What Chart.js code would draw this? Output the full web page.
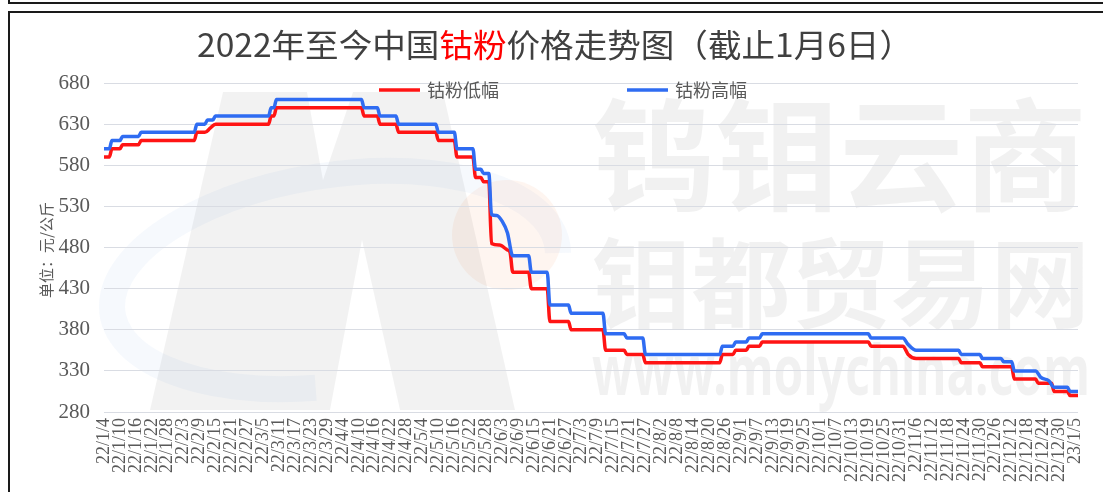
<!DOCTYPE html>
<html><head><meta charset="utf-8">
<script src="https://cdn.jsdelivr.net/npm/chart.js@4.4.1/dist/chart.umd.min.js"></script>
<style>
html,body{margin:0;padding:0;background:#fff;}
#wrap{position:relative;width:1103px;height:492px;overflow:hidden;}
canvas{position:absolute;left:0;top:0;}
.box{position:absolute;border:2px solid #1a1a1a;box-sizing:border-box;pointer-events:none;}
</style></head><body>
<div id="wrap"><canvas id="c" width="1103" height="492"></canvas>
<div class="box" style="left:8px;top:-30px;width:1200px;height:34px;"></div>
<div class="box" style="left:8px;top:11px;width:1200px;height:600px;"></div>
</div>
<script>
// x tick labels (every 6 days from 22/1/4)
const xTickLabels = ['22/1/4','22/1/10','22/1/16','22/1/22','22/1/28','22/2/3','22/2/9','22/2/15','22/2/21','22/2/27',
 '22/3/5','22/3/11','22/3/17','22/3/23','22/3/29','22/4/4','22/4/10','22/4/16','22/4/22','22/4/28',
 '22/5/4','22/5/10','22/5/16','22/5/22','22/5/28','22/6/3','22/6/9','22/6/15','22/6/21','22/6/27',
 '22/7/3','22/7/9','22/7/15','22/7/21','22/7/27','22/8/2','22/8/8','22/8/14','22/8/20','22/8/26',
 '22/9/1','22/9/7','22/9/13','22/9/19','22/9/25','22/10/1','22/10/7','22/10/13','22/10/19','22/10/25',
 '22/10/31','22/11/6','22/11/12','22/11/18','22/11/24','22/11/30','22/12/6','22/12/12','22/12/18','22/12/24',
 '22/12/30','23/1/5'];
const tickStepDays = 6;

// 钴粉高幅 (day offset from 22/1/4, price)
const highDay   = [0,2,3,6,7,13,14,34,35,38,39,41,42,62,63,64,65,97,98,103,104,110,111,125,126,132,133,139,140,142,143,145,146,148,150,152,154,160,161,167,168,175,176,188,189,196,197,203,204,232,233,237,238,242,243,247,248,288,289,301,303,306,322,323,330,331,338,339,342,343,351,353,356,358,363,364,367];
const highPrice = [600,600,610,610,615,615,620,620,630,630,635,635,640,640,650,650,660,660,650,650,640,640,630,630,620,620,600,600,575,575,570,570,520,519,512,498,470,470,450,450,410,410,400,400,375,375,370,370,350,350,360,360,365,365,370,370,375,375,370,370,362,355,355,350,350,345,345,341,341,330,330,322,318,310,310,305,305];

// 钴粉低幅
const lowDay   = [0,2,3,6,7,13,14,34,35,38,40,42,62,63,64,65,97,98,103,104,110,111,125,126,132,133,139,140,142,143,145,146,149,152,153,154,160,161,167,168,175,176,188,189,196,197,203,204,232,233,237,238,242,243,247,248,288,289,301,303,306,322,323,330,331,342,343,351,352,357,358,363,364,367];
const lowPrice = [590,590,600,600,605,605,610,610,620,620,625,630,630,640,640,650,650,640,640,630,630,620,620,610,610,590,590,565,565,560,560,485,483,477,474,450,450,430,430,390,390,380,380,355,355,350,350,340,340,350,350,355,355,360,360,365,365,360,360,350,345,345,340,340,335,335,320,320,315,315,305,305,300,300];

const seriesNames = ['钴粉低幅','钴粉高幅'];
const toPts = (d, v) => d.map((x, i) => ({x: x, y: v[i]}));

const RED = '#ff1414', BLUE = '#2f6cf2';

const bgPlugin = {
  id: 'bg',
  beforeDraw(chart) {
    const ctx = chart.ctx;
    ctx.save();
    ctx.fillStyle = '#fff';
    ctx.fillRect(0, 0, chart.width, chart.height);
    // faint logo ring
    ctx.strokeStyle = 'rgba(110,150,215,0.06)';
    ctx.lineWidth = 26;
    ctx.beginPath();
    ctx.ellipse(335, 280, 225, 105, -0.15, Math.PI * 0.55, Math.PI * 2.02);
    ctx.stroke();
    // faint orange disc
    ctx.fillStyle = 'rgba(250,160,110,0.10)';
    ctx.beginPath(); ctx.arc(507, 235, 55, 0, Math.PI * 2); ctx.fill();
    // faint M
    ctx.fillStyle = 'rgba(0,0,0,0.05)';
    ctx.beginPath();
    ctx.moveTo(223, 92); ctx.lineTo(307, 92); ctx.lineTo(323, 180); ctx.lineTo(353, 92);
    ctx.lineTo(443, 92); ctx.lineTo(515, 410); ctx.lineTo(400, 410); ctx.lineTo(362, 240);
    ctx.lineTo(330, 410); ctx.lineTo(150, 410); ctx.closePath(); ctx.fill();
    // watermark texts
    ctx.fillStyle = 'rgba(0,0,0,0.055)';
    ctx.textBaseline = 'middle';
    const fit = (txt, font, x, y, w) => {
      ctx.font = font;
      const m = ctx.measureText(txt).width;
      ctx.save(); ctx.translate(x, y); ctx.scale(w / m, 1);
      ctx.fillText(txt, 0, 0); ctx.restore();
    };
    fit('钨钼云商', 'bold 122px "Noto Sans CJK SC"', 592, 155, 495);
    fit('钼都贸易网', 'bold 98px "Noto Sans CJK SC"', 592, 283, 498);
    fit('www.molychina.com', 'bold 70px "Noto Sans"', 592, 375, 498);
    ctx.restore();
  }
};

const textPlugin = {
  id: 'texts',
  afterDraw(chart) {
    const ctx = chart.ctx;
    ctx.save();
    // title
    const parts = [['2022年至今中国', '#404040'], ['钴粉', '#ff0000'], ['价格走势图（截止1月6日）', '#404040']];
    ctx.font = '32px "Noto Sans CJK SC"';
    ctx.textBaseline = 'middle';
    ctx.textAlign = 'left';
    let total = 0;
    parts.forEach(p => total += ctx.measureText(p[0]).width);
    const sc = 716 / total;
    ctx.save();
    ctx.translate(197, 45);
    ctx.scale(sc, 1);
    let x = 0;
    parts.forEach(p => { ctx.fillStyle = p[1]; ctx.fillText(p[0], x, 0); x += ctx.measureText(p[0]).width; });
    ctx.restore();
    // legend
    ctx.lineWidth = 3.5;
    ctx.lineCap = 'butt';
    ctx.font = '18px "Noto Sans CJK SC"';
    ctx.fillStyle = '#595959';
    ctx.strokeStyle = RED;
    ctx.beginPath(); ctx.moveTo(379, 90); ctx.lineTo(420, 90); ctx.stroke();
    ctx.fillText(seriesNames[0], 427, 90);
    ctx.strokeStyle = BLUE;
    ctx.beginPath(); ctx.moveTo(627, 90); ctx.lineTo(668, 90); ctx.stroke();
    ctx.fillText(seriesNames[1], 675, 90);
    // y title
    ctx.save();
    ctx.translate(46, 250);
    ctx.rotate(-Math.PI / 2);
    ctx.textAlign = 'center';
    ctx.font = '15px "Noto Sans CJK SC"';
    ctx.fillText('单位：元/公斤', 0, 0);
    ctx.restore();
    ctx.restore();
  }
};

new Chart(document.getElementById('c'), {
  type: 'line',
  data: {
    datasets: [
      { label: seriesNames[0], data: toPts(lowDay, lowPrice), borderColor: RED, borderWidth: 3.5, pointRadius: 0, cubicInterpolationMode: 'monotone', order: 1 },
      { label: seriesNames[1], data: toPts(highDay, highPrice), borderColor: BLUE, borderWidth: 3.5, pointRadius: 0, cubicInterpolationMode: 'monotone', order: 0 }
    ]
  },
  options: {
    responsive: false,
    devicePixelRatio: 1,
    animation: false,
    layout: { padding: { top: 83, right: 10, left: 0, bottom: 0 } },
    plugins: { legend: { display: false }, title: { display: false }, tooltip: { enabled: false } },
    scales: {
      x: {
        type: 'linear', min: 0, max: 367,
        grid: { display: false, drawTicks: false },
        border: { display: false },
        afterBuildTicks(scale) { scale.ticks = xTickLabels.map((l, i) => ({ value: i * tickStepDays })); },
        afterFit(scale) { scale.height = 80; },
        ticks: {
          autoSkip: false, minRotation: 90, maxRotation: 90, padding: 6,
          color: '#595959', font: { family: '"Liberation Serif"', size: 18 },
          callback: (v, i) => xTickLabels[i]
        }
      },
      y: {
        min: 280, max: 680,
        afterFit(scale) { scale.width = 104; },
        grid: { color: '#d9dce3', lineWidth: 1, drawTicks: false },
        border: { display: false },
        ticks: { stepSize: 50, padding: 14, color: '#595959', font: { family: '"Liberation Serif"', size: 21 } }
      }
    }
  },
  plugins: [bgPlugin, textPlugin]
});
</script>
</body></html>
